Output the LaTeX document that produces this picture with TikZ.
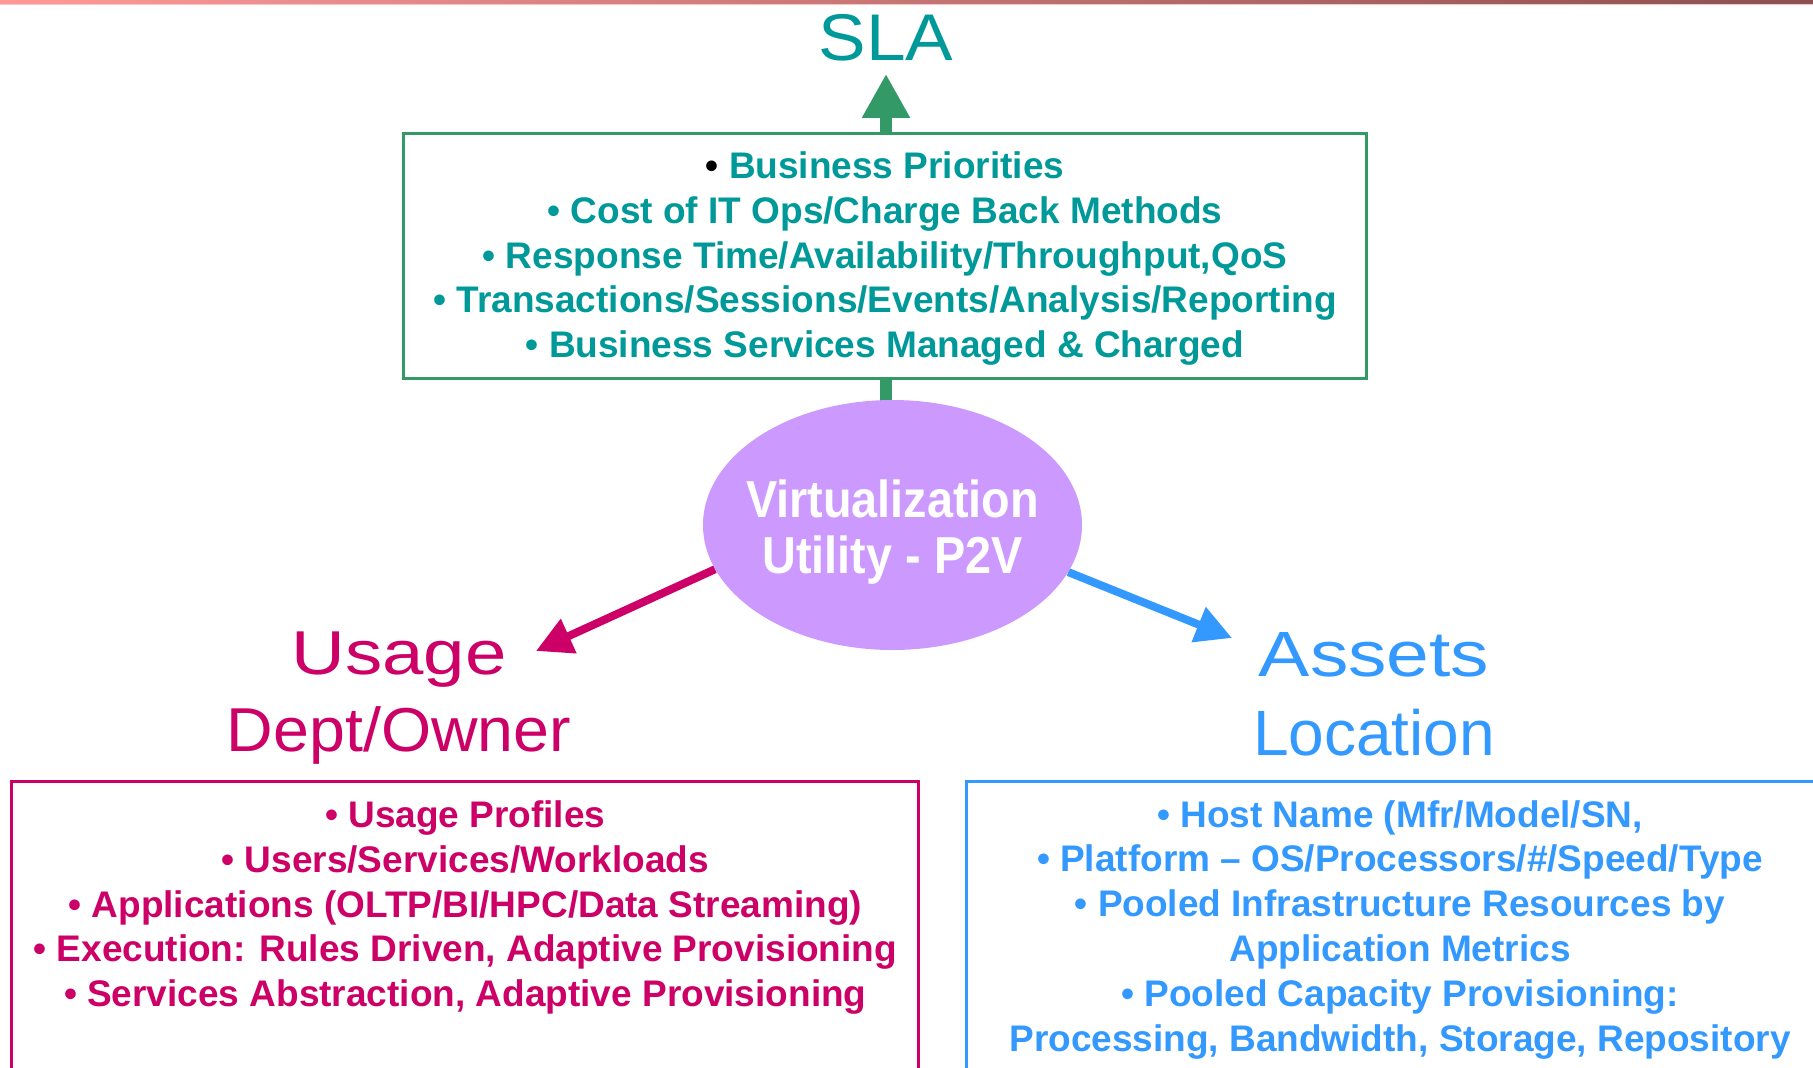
\documentclass[tikz,border=0pt]{standalone}
\usepackage{fontspec}
\setmainfont{Liberation Sans}
\newfontfamily\hubfont{Liberation Sans}[FakeStretch=0.9]
\usetikzlibrary{
    arrows.meta,
    backgrounds,
    positioning,
    shapes.geometric
}
\definecolor{slagreen}{RGB}{51,153,102}
\definecolor{slateal}{RGB}{0,153,153}
\definecolor{usagered}{RGB}{204,0,102}
\definecolor{assetblue}{RGB}{51,153,255}
\definecolor{hubviolet}{RGB}{204,153,255}
\definecolor{topline}{RGB}{255,153,153}
\definecolor{toplinedark}{RGB}{140,80,80}
\newcommand{\widened}[2]{{\addfontfeature{FakeStretch=#1}#2}}
\tikzset{
    % Box styles
    list frame/.style={
        rectangle,
        fill=white,
        line width=3pt,
        outer sep=0pt,
        inner sep=0pt
    },
    goal frame/.style={
        list frame,
        draw=slagreen,
        minimum width=963pt,
        minimum height=245pt
    },
    usage frame/.style={
        list frame,
        draw=usagered,
        minimum width=907pt,
        minimum height=400pt
    },
    asset frame/.style={
        list frame,
        draw=assetblue,
        minimum width=867pt,
        minimum height=400pt
    },
    hub node/.style={
        ellipse,
        fill=hubviolet,
        minimum width=379pt,
        minimum height=250pt,
        inner sep=0pt
    },
    % Text styles
    list text/.style={
        align=center,
        inner sep=0pt,
        font=\bfseries\fontsize{37}{44.8}\selectfont
    },
    title text/.style={
        align=center,
        inner sep=0pt
    },
    hub text/.style={
        align=center,
        inner sep=0pt,
        text=white,
        font=\hubfont\bfseries\fontsize{52}{56}\selectfont
    },
    % Arrow styles
    sla arrow/.style={
        -{Triangle[length=44pt,width=45pt]},
        line width=12pt,
        slagreen
    },
    usage arrow/.style={
        -{Triangle[length=36pt,width=36pt]},
        line width=8pt,
        usagered
    },
    asset arrow/.style={
        -{Triangle[length=36pt,width=36pt]},
        line width=8pt,
        assetblue
    }
}

\begin{document}
\begin{tikzpicture}[x=1pt, y=-1pt]
    \useasboundingbox (0,0) rectangle (1813,1068);
    \clip (0,0) rectangle (1813,1068);
    % rule along the top edge
    \shade[left color=topline, right color=toplinedark] (0,0) rectangle (1813,4);
    \fill[topline!60] (0,4) rectangle (1813,5);

    % centre
    \node[hub node] (virt) at (892.5,525) {};
    \node[hub text, below=80pt of virt.north] (virt label) {Virtualization\\Utility - P2V};

    % SLA branch
    \node[title text, text=slateal, font=\fontsize{66}{66}\selectfont, anchor=base] (sla) at (886,60) {\widened{1.08}{SLA}};
    \node[goal frame] (goal box) at (885,255.5) {};
    \node[list text, text=slateal, below=18.5pt of goal box.north] (goal list) {%
        {\color{black}•} Business Priorities\\
        • Cost of IT Ops/Charge Back Methods\\
        • Response Time/Availability/Throughput,QoS\\
        • Transactions/Sessions/Events/Analysis/Reporting\\
        • Business Services Managed \& Charged};

    % usage branch
    \node[title text, text=usagered, font=\fontsize{62}{77}\selectfont, anchor=north] (usage) at (399,632) {\widened{1.2}{Usage}\\\widened{1.04}{Dept/Owner}};
    \coordinate (usage tip) at (536,651);
    \node[usage frame, anchor=north] (usage box) at (465.3,781.5) {};
    \node[list text, text=usagered, below=19pt of usage box.north] (usage list) {%
        • Usage Profiles\\
        • Users/Services/Workloads\\
        • Applications (OLTP/BI/HPC/Data Streaming)\\
        • Execution: Rules Driven, Adaptive Provisioning\\
        • Services Abstraction, Adaptive Provisioning};

    % assets branch
    \node[title text, text=assetblue, font=\fontsize{64}{79}\selectfont, anchor=north] (assets) at (1374,632) {\widened{1.2}{Assets}\\Location};
    \coordinate (assets tip) at (1232,638);
    \node[asset frame, anchor=north] (assets box) at (1400,781) {};
    \node[list text, text=assetblue, below=19pt of assets box.north] (assets list) {%
        • Host Name (Mfr/Model/SN,\\
        • Platform – OS/Processors/\#/Speed/Type\\
        • Pooled Infrastructure Resources by\\
        Application Metrics\\
        • Pooled Capacity Provisioning:\\
        Processing, Bandwidth, Storage, Repository};

    \begin{scope}[on background layer]
        \draw[sla arrow, shorten >=13pt] (virt.center -| sla.south) -- (sla.south);
        \draw[usage arrow] (virt.194) -- (usage tip);
        \draw[asset arrow] (virt.345) -- (assets tip);
    \end{scope}
\end{tikzpicture}
\end{document}
